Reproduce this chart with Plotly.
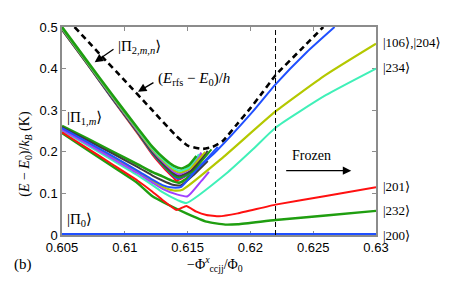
import plotly.graph_objects as go

# ---------------- data ----------------
x_ticks = [0.605, 0.61, 0.615, 0.62, 0.625, 0.63]
x_tick_labels = ["0.605", "0.61", "0.615", "0.62", "0.625", "0.63"]
y_ticks = [0, 0.1, 0.2, 0.3, 0.4, 0.5]
y_tick_labels = ["0", "0.1", "0.2", "0.3", "0.4", "0.5"]

freeze_x = 0.622

# dashed (E_rfs - E0)/h
x_rfs = [0.606, 0.608, 0.610, 0.612, 0.614, 0.615, 0.6162, 0.617, 0.6178, 0.6189, 0.620, 0.621, 0.622, 0.624, 0.6258]
y_rfs = [0.500, 0.435, 0.371, 0.306, 0.241, 0.215, 0.207, 0.212, 0.226, 0.265, 0.305, 0.344, 0.384, 0.445, 0.500]

# upper bundle |Pi_2,m,n>
x_u_start = [0.605, 0.607, 0.609, 0.611, 0.6122, 0.6132, 0.6139]
x_u_green = x_u_start + [0.6145, 0.6151, 0.6157]
y_u_green = [0.500, 0.418, 0.337, 0.258, 0.212, 0.182, 0.166, 0.160, 0.168, 0.190]
x_u_cyan = x_u_start + [0.6144, 0.6151, 0.6159]
y_u_cyan = [0.498, 0.416, 0.335, 0.255, 0.208, 0.177, 0.160, 0.154, 0.162, 0.194]
x_u_yellow = x_u_start + [0.6144, 0.6152, 0.6164]
y_u_yellow = [0.497, 0.415, 0.333, 0.253, 0.205, 0.174, 0.156, 0.150, 0.160, 0.200]
x_u_purple = x_u_start + [0.6143, 0.6151, 0.6161]
y_u_purple = [0.496, 0.414, 0.332, 0.251, 0.203, 0.171, 0.152, 0.146, 0.157, 0.198]
x_u_gray = x_u_start + [0.6143, 0.6153, 0.6166]
y_u_gray = [0.495, 0.413, 0.330, 0.249, 0.200, 0.167, 0.148, 0.142, 0.155, 0.202]
x_u_green2 = x_u_start + [0.6143, 0.6153, 0.6169]
y_u_green2 = [0.494, 0.412, 0.329, 0.248, 0.198, 0.164, 0.144, 0.138, 0.151, 0.206]
x_u_blue = x_u_start + [0.6142, 0.6155, 0.6174]
y_u_blue = [0.494, 0.412, 0.328, 0.247, 0.196, 0.162, 0.141, 0.135, 0.152, 0.212]
x_u_red = x_u_start + [0.6141, 0.6150, 0.6162]
y_u_red = [0.493, 0.411, 0.327, 0.245, 0.193, 0.158, 0.137, 0.131, 0.145, 0.194]

# lower bundle |Pi_1,m>
x_l_start = [0.605, 0.607, 0.609, 0.611, 0.6122]
x_l_green = x_l_start + [0.613, 0.6138, 0.6144, 0.6150, 0.6157]
y_l_green = [0.262, 0.232, 0.201, 0.170, 0.151, 0.141, 0.130, 0.126, 0.138, 0.165]
x_l_gray = x_l_start + [0.613, 0.6138, 0.6145, 0.6155, 0.6166]
y_l_gray = [0.259, 0.228, 0.196, 0.164, 0.143, 0.131, 0.121, 0.120, 0.145, 0.178]
x_l_blue = x_l_start + [0.613, 0.6138, 0.6145, 0.6158, 0.6173, 0.6202, 0.622, 0.6245, 0.6267]
y_l_blue = [0.257, 0.224, 0.190, 0.155, 0.133, 0.120, 0.114, 0.116, 0.160, 0.202, 0.297, 0.362, 0.440, 0.500]
x_l_yellow = x_l_start + [0.613, 0.6139, 0.6146, 0.6178, 0.622, 0.626, 0.63]
y_l_yellow = [0.255, 0.222, 0.188, 0.153, 0.130, 0.116, 0.107, 0.109, 0.186, 0.297, 0.385, 0.460]
x_l_purple = x_l_start + [0.613, 0.6142, 0.6150, 0.6161, 0.6167]
y_l_purple = [0.253, 0.219, 0.184, 0.149, 0.126, 0.111, 0.097, 0.093, 0.130, 0.152]
x_l_cyan = x_l_start + [0.613, 0.6142, 0.6149, 0.6182, 0.6202, 0.622, 0.626, 0.63]
y_l_cyan = [0.251, 0.216, 0.180, 0.144, 0.120, 0.103, 0.084, 0.077, 0.151, 0.206, 0.258, 0.336, 0.400]
x_l_red = x_l_start + [0.613, 0.6141, 0.6149, 0.6157, 0.6165, 0.6175, 0.619, 0.622, 0.626, 0.63]
y_l_red = [0.247, 0.209, 0.170, 0.131, 0.104, 0.084, 0.060, 0.070, 0.056, 0.048, 0.045, 0.052, 0.073, 0.094, 0.115]
x_l_green_b = x_l_start + [0.6135, 0.6149, 0.6165, 0.618, 0.619, 0.622, 0.626, 0.63]
y_l_green_b = [0.245, 0.205, 0.165, 0.125, 0.093, 0.072, 0.052, 0.032, 0.025, 0.026, 0.036, 0.047, 0.058]

# ground state |Pi_0>
x_ground = [0.605, 0.63]
y_ground = [0.0, 0.0]

# ---------------- styles ----------------
GREEN = "#1f9e10"
RED = "#ff1010"
CYAN = "#40f0b8"
PURPLE = "#a040ff"
YELLOW = "#b4c800"
BLUE = "#2050ff"
GRAY = "#3c3c3c"

fig = go.Figure()

def add(x, y, color, width=2.0, dash=None, smoothing=0.5):
    fig.add_trace(go.Scatter(x=x, y=y, mode="lines",
                             line=dict(color=color, width=width, dash=dash,
                                       shape="spline", smoothing=smoothing),
                             showlegend=False, hoverinfo="skip"))

# lower bundle
add(x_l_green, y_l_green, GREEN, 2.6)
add(x_l_gray, y_l_gray, GRAY)
add(x_l_yellow, y_l_yellow, YELLOW, 2.2)
add(x_l_cyan, y_l_cyan, CYAN)
add(x_l_purple, y_l_purple, PURPLE)
add(x_l_blue, y_l_blue, BLUE)
add(x_l_green_b, y_l_green_b, GREEN, 2.4)
add(x_l_red, y_l_red, RED, 2.0, None, 0.3)

# upper bundle
add(x_u_red, y_u_red, RED)
add(x_u_blue, y_u_blue, BLUE)
add(x_u_green2, y_u_green2, GREEN)
add(x_u_gray, y_u_gray, GRAY)
add(x_u_purple, y_u_purple, PURPLE)
add(x_u_yellow, y_u_yellow, YELLOW)
add(x_u_cyan, y_u_cyan, CYAN)
add(x_u_green, y_u_green, GREEN, 2.6)

# ground state
fig.add_trace(go.Scatter(x=x_ground, y=y_ground, mode="lines",
                         line=dict(color=BLUE, width=4),
                         showlegend=False, hoverinfo="skip"))

# dashed rfs curve
add(x_rfs, y_rfs, "black", 2.6, "6px,4px")

# freeze-out line
fig.add_trace(go.Scatter(x=[freeze_x, freeze_x], y=[0, 0.5], mode="lines",
                         line=dict(color="black", width=1, dash="5px,3px"),
                         showlegend=False, hoverinfo="skip"))

SERIF = "Liberation Serif, DejaVu Serif, serif"
SANS = "Liberation Sans, Arial, sans-serif"
AX_COLOR = "#8c8c8c"

annotations = []

def label(text, x, y, xref="x", yref="y", size=15, xanchor="left"):
    annotations.append(dict(text=text, x=x, y=y, xref=xref, yref=yref,
                            showarrow=False, xanchor=xanchor, yanchor="middle",
                            font=dict(family=SERIF, size=size, color="black")))

def arrow(x_head, y_head, x_tail, y_tail):
    annotations.append(dict(text="", x=x_head, y=y_head, ax=x_tail, ay=y_tail,
                            xref="x", yref="y", axref="x", ayref="y",
                            showarrow=True, arrowhead=2, arrowsize=1.3,
                            arrowwidth=1.3, arrowcolor="black"))

label("|Π<sub>2,<i>m</i>,<i>n</i></sub>⟩", 0.60930, 0.452)
arrow(0.6076, 0.4154, 0.60922, 0.449)
label("(<i>E</i><sub>rfs</sub> − <i>E</i><sub>0</sub>)/<i>h</i>", 0.61248, 0.374)
arrow(0.61105, 0.3443, 0.61240, 0.3685)
label("|Π<sub>1,<i>m</i></sub>⟩", 0.60522, 0.282)
label("|Π<sub>0</sub>⟩", 0.60522, 0.035)
label("Frozen", 0.62312, 0.192, size=14)
arrow(0.62803, 0.1547, 0.62273, 0.1547)

# right-hand state labels
label("|106⟩,|204⟩", 1.016, 0.462, xref="paper", size=13)
label("|234⟩", 1.016, 0.402, xref="paper", size=13)
label("|201⟩", 1.016, 0.117, xref="paper", size=13)
label("|232⟩", 1.016, 0.059, xref="paper", size=13)
label("|200⟩", 1.016, 0.0, xref="paper", size=13)

# axis titles
annotations.append(dict(text="(<i>E</i> − <i>E</i><sub>0</sub>)/<i>k</i><sub><i>B</i></sub> (K)",
                        x=-0.115, y=0.39, xref="paper", yref="paper", textangle=-90,
                        showarrow=False, xanchor="center", yanchor="middle",
                        font=dict(family=SERIF, size=14, color="black")))
annotations.append(dict(text="−Φ<sup><i>x</i></sup><sub>ccjj</sub>/Φ<sub>0</sub>",
                        x=0.487, y=-0.14, xref="paper", yref="paper",
                        showarrow=False, xanchor="center", yanchor="middle",
                        font=dict(family=SERIF, size=14, color="black")))
annotations.append(dict(text="(b)", x=-0.125, y=-0.14, xref="paper", yref="paper",
                        showarrow=False, xanchor="center", yanchor="middle",
                        font=dict(family=SERIF, size=15, color="black")))

fig.update_layout(
    width=450, height=281,
    margin=dict(l=54, r=82, t=16, b=54),
    paper_bgcolor="white", plot_bgcolor="white",
    annotations=annotations,
    xaxis=dict(range=[0.605, 0.63], tickvals=x_ticks, ticktext=x_tick_labels,
               showgrid=False, zeroline=False, showline=True, linecolor=AX_COLOR,
               linewidth=1.5, mirror="ticks", ticks="inside", ticklen=4,
               tickcolor=AX_COLOR, tickfont=dict(family=SANS, size=13, color="black"),
               layer="below traces"),
    yaxis=dict(range=[0, 0.5], tickvals=y_ticks, ticktext=y_tick_labels,
               showgrid=False, zeroline=False, showline=True, linecolor=AX_COLOR,
               linewidth=1.5, mirror="ticks", ticks="inside", ticklen=4,
               tickcolor=AX_COLOR, tickfont=dict(family=SANS, size=13, color="black"),
               layer="below traces"),
)

fig.write_html("out.html")
